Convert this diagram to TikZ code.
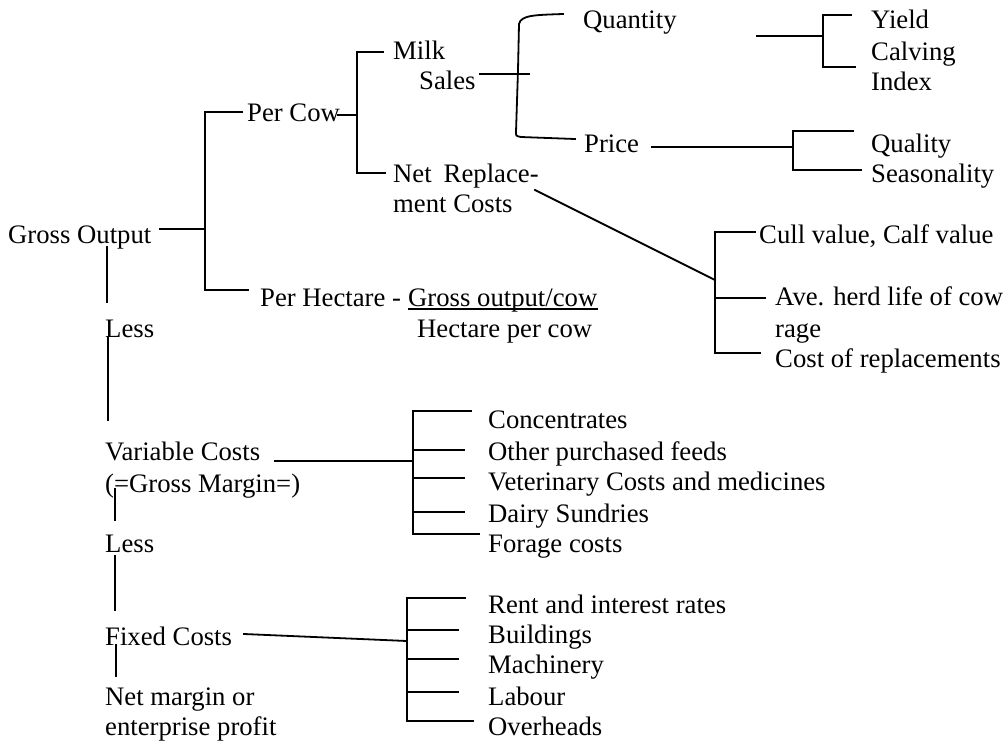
\documentclass[tikz,border=0pt]{standalone}
\usepackage{fontspec}
\setmainfont{Liberation Serif}
\begin{document}
\begin{tikzpicture}[x=1pt,y=-1pt,
  lbl/.style={inner sep=0pt,anchor=base west,font=\fontsize{26.7}{30.5}\selectfont},
  conn/.style={line width=1.8pt,line cap=rect},
  uline/.style={line width=1.2pt}]
\useasboundingbox (0,0) rectangle (1006,742);
% ---------- text nodes ----------
\node[lbl] (go) at (8,243) {Gross Output};
\node[lbl] (percow) at (247,121) {Per Cow};
\node[lbl] (milk) at (393,59) {Milk};
\node[lbl] (sales) at (419,89) {Sales};
\node[lbl] (netrep) at (393,182) {Net\hspace{0.45em}Replace-};
\node[lbl] (mentc) at (393,212) {ment Costs};
\node[lbl] (perha) at (260,306) {Per Hectare -};
\node[lbl] (gocow) at (408,306) {Gross output/cow};
\node[lbl] (hapc) at (417,337) {Hectare per cow};
\node[lbl] (quantity) at (583,28) {Quantity};
\node[lbl] (price) at (584,152) {Price};
\node[lbl] (yield) at (871,28) {Yield};
\node[lbl] (calving) at (871,60) {Calving};
\node[lbl] (index) at (871,90) {Index};
\node[lbl] (quality) at (871,152) {Quality};
\node[lbl] (season) at (871,182) {Seasonality};
\node[lbl] (cull) at (759,243) {Cull value, Calf value};
\node[lbl] (ave) at (775,305) {Ave. herd life of cow};
\node[lbl] (rage) at (775,337) {rage};
\node[lbl] (costrep) at (775,367) {Cost of replacements};
\node[lbl] (less1) at (105,337) {Less};
\node[lbl] (varc) at (105,460) {Variable Costs};
\node[lbl] (gm) at (105,492) {(=Gross Margin=)};
\node[lbl] (less2) at (105,552) {Less};
\node[lbl] (fixed) at (105,645) {Fixed Costs};
\node[lbl] (netm) at (105,705) {Net margin or};
\node[lbl] (ent) at (105,735) {enterprise profit};
\node[lbl] (conc) at (488,428) {Concentrates};
\node[lbl] (opf) at (488,460) {Other purchased feeds};
\node[lbl] (vet) at (488,490) {Veterinary Costs and medicines};
\node[lbl] (dairy) at (488,522) {Dairy Sundries};
\node[lbl] (forage) at (488,552) {Forage costs};
\node[lbl] (rent) at (488,613) {Rent and interest rates};
\node[lbl] (build) at (488,643) {Buildings};
\node[lbl] (mach) at (488,673) {Machinery};
\node[lbl] (labour) at (488,705) {Labour};
\node[lbl] (over) at (488,735) {Overheads};
% underline
\draw[uline] ([yshift=-3pt]gocow.base west) -- ([yshift=-3pt]gocow.base east);
% ---------- coordinates ----------
\coordinate (goA) at (160,229); \coordinate (goB) at (205,229);
\coordinate (b1t) at (242,112); \coordinate (b1tc) at (205,112);
\coordinate (b1bc) at (205,290); \coordinate (b1b) at (248,290);
\coordinate (pcA) at (338,115); \coordinate (pcB) at (357,115);
\coordinate (b2t) at (383,52); \coordinate (b2tc) at (357,52);
\coordinate (b2bc) at (357,173); \coordinate (b2b) at (385,173);
\coordinate (slA) at (480,74); \coordinate (slB) at (529,74);
\coordinate (brT) at (563,14); \coordinate (brB) at (575,139);
\coordinate (qA) at (757,36); \coordinate (qB) at (823,36);
\coordinate (b3t) at (851,15); \coordinate (b3tc) at (823,15);
\coordinate (b3bc) at (823,67); \coordinate (b3b) at (855,67);
\coordinate (prA) at (652,147); \coordinate (prB) at (793,147);
\coordinate (b4t) at (853,131); \coordinate (b4tc) at (793,131);
\coordinate (b4bc) at (793,170); \coordinate (b4b) at (861,170);
\coordinate (dgA) at (535,190); \coordinate (dgB) at (715,280);
\coordinate (b5t) at (755,232); \coordinate (b5tc) at (715,232);
\coordinate (b5bc) at (715,353); \coordinate (b5b) at (760,353);
\coordinate (b5mc) at (715,298); \coordinate (b5m) at (765,298);
\coordinate (v1a) at (107,247); \coordinate (v1b) at (107,302);
\coordinate (v2a) at (108,337); \coordinate (v2b) at (108,420);
\coordinate (vcA) at (275,461); \coordinate (vcB) at (413,461);
\coordinate (b6t) at (471,411); \coordinate (b6tc) at (413,411);
\coordinate (b6bc) at (413,534); \coordinate (b6b) at (479,534);
\coordinate (b6m1c) at (413,450); \coordinate (b6m1) at (464,450);
\coordinate (b6m2c) at (413,478); \coordinate (b6m2) at (464,478);
\coordinate (b6m3c) at (413,512); \coordinate (b6m3) at (464,512);
\coordinate (v3a) at (115,489); \coordinate (v3b) at (115,520);
\coordinate (v4a) at (115,556); \coordinate (v4b) at (115,610);
\coordinate (fcA) at (244,634); \coordinate (fcB) at (407,641);
\coordinate (b7t) at (465,598); \coordinate (b7tc) at (407,598);
\coordinate (b7bc) at (407,721); \coordinate (b7b) at (473,721);
\coordinate (b7m1c) at (407,630); \coordinate (b7m1) at (458,630);
\coordinate (b7m2c) at (407,659); \coordinate (b7m2) at (458,659);
\coordinate (b7m3c) at (407,692); \coordinate (b7m3) at (458,692);
\coordinate (v5a) at (116,645); \coordinate (v5b) at (116,676);
% ---------- connectors ----------
\draw[conn] (goA) -- (goB);
\draw[conn] (b1t) -- (b1tc) -- (b1bc) -- (b1b);
\draw[conn] (pcA) -- (pcB);
\draw[conn] (b2t) -- (b2tc) -- (b2bc) -- (b2b);
\draw[conn] (slA) -- (slB);
\draw[conn] (brT) .. controls (535,15) and (521,15) .. (519,24) -- (518,70) -- (516,132) .. controls (516,136) .. (521,137) -- (brB);
\draw[conn] (qA) -- (qB);
\draw[conn] (b3t) -- (b3tc) -- (b3bc) -- (b3b);
\draw[conn] (prA) -- (prB);
\draw[conn] (b4t) -- (b4tc) -- (b4bc) -- (b4b);
\draw[conn] (dgA) -- (dgB);
\draw[conn] (b5t) -- (b5tc) -- (b5bc) -- (b5b);
\draw[conn] (b5mc) -- (b5m);
\draw[conn] (v1a) -- (v1b);
\draw[conn] (v2a) -- (v2b);
\draw[conn] (vcA) -- (vcB);
\draw[conn] (b6t) -- (b6tc) -- (b6bc) -- (b6b);
\draw[conn] (b6m1c) -- (b6m1);
\draw[conn] (b6m2c) -- (b6m2);
\draw[conn] (b6m3c) -- (b6m3);
\draw[conn] (v3a) -- (v3b);
\draw[conn] (v4a) -- (v4b);
\draw[conn] (fcA) -- (fcB);
\draw[conn] (b7t) -- (b7tc) -- (b7bc) -- (b7b);
\draw[conn] (b7m1c) -- (b7m1);
\draw[conn] (b7m2c) -- (b7m2);
\draw[conn] (b7m3c) -- (b7m3);
\draw[conn] (v5a) -- (v5b);
\end{tikzpicture}
\end{document}
